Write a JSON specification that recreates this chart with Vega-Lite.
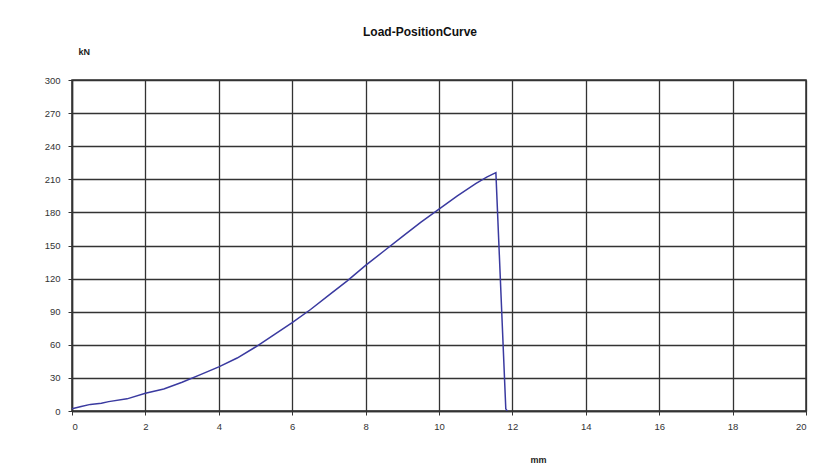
{
  "$schema": "https://vega.github.io/schema/vega-lite/v6.json",
  "width": 734,
  "height": 331,
  "autosize": {"type": "none"},
  "padding": {"left": 72, "top": 80, "right": 15, "bottom": 57},
  "background": "white",
  "title": {
    "text": "Load-PositionCurve",
    "font": "Liberation Sans",
    "fontSize": 12,
    "fontWeight": "bold",
    "color": "#111",
    "anchor": "middle",
    "dx": -19,
    "offset": 8
  },
  "data": {
    "values": [
      {"mm": 0, "kN": 2},
      {"mm": 0.25, "kN": 4},
      {"mm": 0.5, "kN": 6},
      {"mm": 0.8, "kN": 7},
      {"mm": 1.0, "kN": 8.5},
      {"mm": 1.5, "kN": 11},
      {"mm": 2.0, "kN": 16},
      {"mm": 2.5, "kN": 20},
      {"mm": 3.0, "kN": 26},
      {"mm": 3.5, "kN": 33},
      {"mm": 4.0, "kN": 40},
      {"mm": 4.5, "kN": 48},
      {"mm": 5.0, "kN": 58},
      {"mm": 5.5, "kN": 69},
      {"mm": 6.0, "kN": 80},
      {"mm": 6.5, "kN": 92},
      {"mm": 7.0, "kN": 105},
      {"mm": 7.5, "kN": 118},
      {"mm": 8.0, "kN": 132},
      {"mm": 8.5, "kN": 145},
      {"mm": 9.0, "kN": 158},
      {"mm": 9.5, "kN": 171},
      {"mm": 10.0, "kN": 183},
      {"mm": 10.5, "kN": 195},
      {"mm": 11.0, "kN": 206},
      {"mm": 11.3, "kN": 212},
      {"mm": 11.55, "kN": 216},
      {"mm": 11.82, "kN": 2},
      {"mm": 11.86, "kN": 0}
    ]
  },
  "mark": {"type": "line", "color": "#3a3aa0", "strokeWidth": 1.5, "clip": true},
  "encoding": {
    "x": {
      "field": "mm",
      "type": "quantitative",
      "scale": {"domain": [0, 20], "nice": false, "zero": true},
      "axis": {
        "values": [0, 2, 4, 6, 8, 10, 12, 14, 16, 18, 20],
        "title": "mm",
        "titleFont": "Liberation Sans",
        "titleFontSize": 9,
        "titleFontWeight": "bold",
        "titleColor": "#222",
        "titleX": 466,
        "titleY": 51,
        "titleBaseline": "alphabetic",
        "titleAnchor": "middle",
        "labelPadding": 6
      }
    },
    "y": {
      "field": "kN",
      "type": "quantitative",
      "scale": {"domain": [0, 300], "nice": false},
      "axis": {
        "values": [0, 30, 60, 90, 120, 150, 180, 210, 240, 270, 300],
        "title": "kN",
        "titleAngle": 0,
        "titleFont": "Liberation Sans",
        "titleFontSize": 9,
        "titleFontWeight": "bold",
        "titleColor": "#222",
        "titleX": 6,
        "titleY": -24,
        "titleAlign": "left",
        "labelPadding": 8
      }
    }
  },
  "config": {
    "view": {"stroke": "#333", "strokeWidth": 1.5},
    "axis": {
      "labelFont": "Liberation Sans",
      "labelFontSize": 9.5,
      "labelColor": "#333",
      "grid": true,
      "gridColor": "#333",
      "gridWidth": 1.3,
      "gridOpacity": 1,
      "domainColor": "#333",
      "domainWidth": 1.5,
      "tickColor": "#333",
      "tickSize": 4
    }
  }
}
